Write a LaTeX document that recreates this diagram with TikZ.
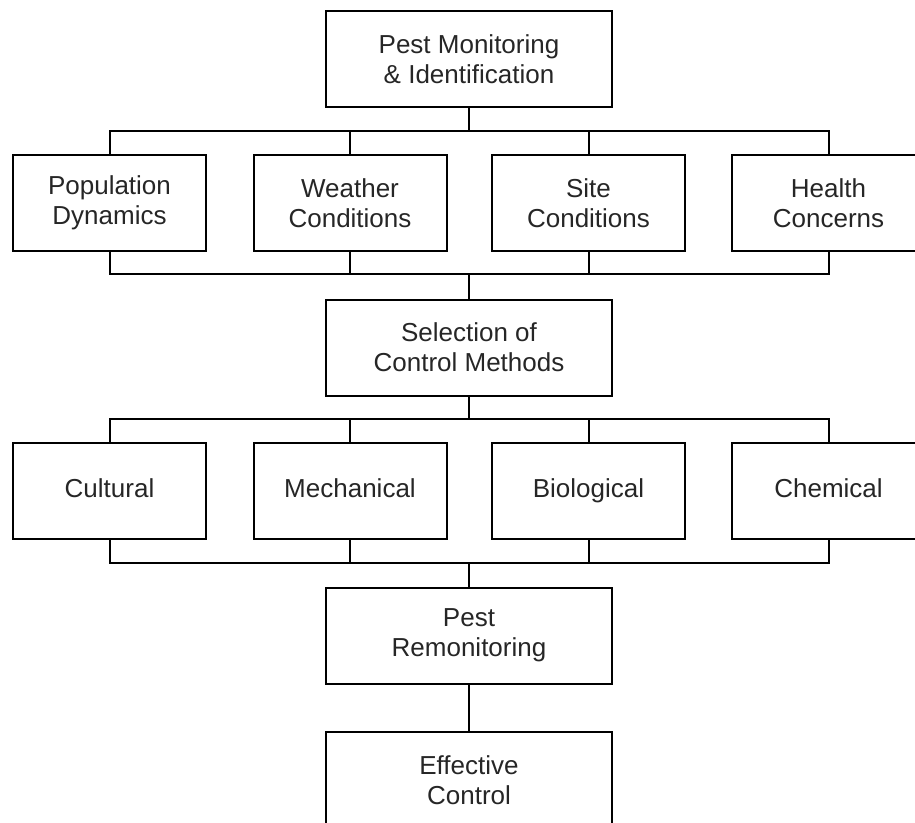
\documentclass[tikz,border=0pt]{standalone}
\usepackage{fontspec}
\setmainfont{Liberation Sans}
\begin{document}
\begin{tikzpicture}[x=1pt,y=-1pt,
    stage/.style={draw, line width=2pt, minimum width=286pt, minimum height=96pt, inner sep=0pt,
      align=center, text=black!85, font=\fontsize{26}{30}\selectfont},
    factor/.style={stage, minimum width=193pt},
    method/.style={factor, text height=19pt, text depth=6pt},
    link/.style={line width=2pt}]
  \useasboundingbox (0,0) rectangle (915,822);
  \node[stage] (PMI) at (469,59) {Pest Monitoring\\\& Identification};
  \node[factor] (Pop) at (109.5,203) {Population\\Dynamics};
  \node[factor] (Wea) at (350,203) {Weather\\Conditions};
  \node[factor] (Site) at (588.5,203) {Site\\Conditions};
  \node[factor] (Hea) at (828.5,203) {Health\\Concerns};
  \node[stage] (Sel) at (469,347.5) {Selection of\\Control Methods};
  \node[method] (Cul) at (109.5,491) {Cultural};
  \node[method] (Mec) at (350,491) {Mechanical};
  \node[method] (Bio) at (588.5,491) {Biological};
  \node[method] (Che) at (828.5,491) {Chemical};
  \node[stage] (Rem) at (469,635.5) {Pest\\Remonitoring};
  \node[stage] (Eff) at (469,780) {Effective\\Control};
  \coordinate (busA) at (469,131);
  \coordinate (busB) at (469,274);
  \coordinate (busC) at (469,419);
  \coordinate (busD) at (469,563);
  \foreach \n in {Pop,Wea,Site,Hea} {
    \draw[link] (PMI.south) -- (busA) -| (\n.north);
    \draw[link] (\n.south) |- (busB) -- (Sel.north);
  }
  \foreach \n in {Cul,Mec,Bio,Che} {
    \draw[link] (Sel.south) -- (busC) -| (\n.north);
    \draw[link] (\n.south) |- (busD) -- (Rem.north);
  }
  \draw[link] (Rem) -- (Eff);
\end{tikzpicture}
\end{document}
